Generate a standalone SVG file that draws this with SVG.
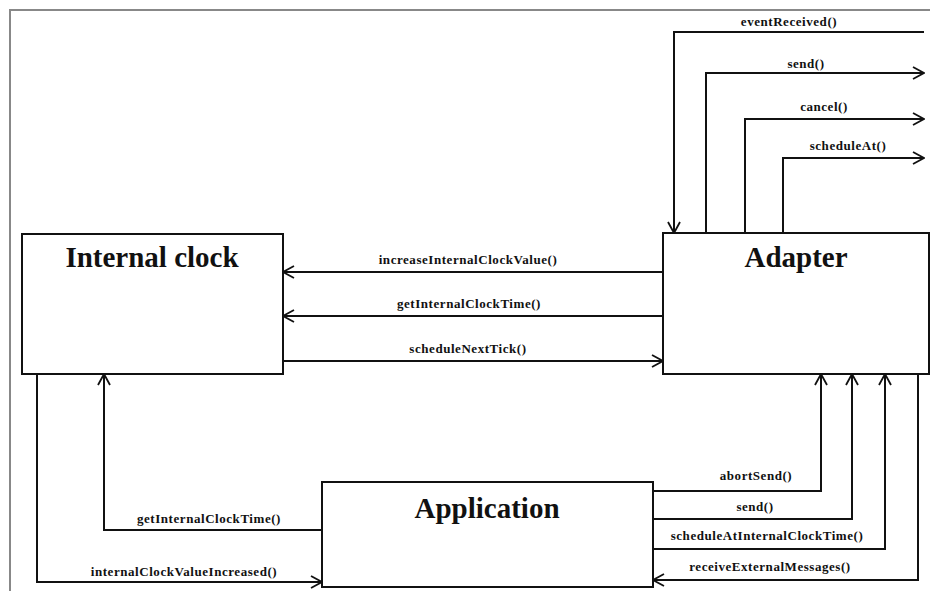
<svg xmlns="http://www.w3.org/2000/svg" width="930" height="591" viewBox="0 0 930 591">
<style>
.box{fill:#fff;stroke:#111;stroke-width:2}
.title{font-family:"Liberation Serif",serif;font-weight:bold;font-size:29px;text-anchor:middle;fill:#111}
.lbl{font-family:"Liberation Serif",serif;font-weight:bold;font-size:13px;letter-spacing:0.55px;text-anchor:middle;fill:#111}
.ln{fill:none;stroke:#111;stroke-width:2;marker-end:url(#ah)}
</style>
<defs>
<marker id="ah" viewBox="0 0 14 14" refX="13" refY="7" markerWidth="14" markerHeight="14" markerUnits="userSpaceOnUse" orient="auto">
<path d="M2,1 L13,7 L2,13" fill="none" stroke="#111" stroke-width="1.8"/>
</marker>
</defs>
<rect width="930" height="591" fill="#fff"/>
<path d="M10,591 V10 H930" fill="none" stroke="#888" stroke-width="2"/>
<g id="connectors">
<path class="ln" d="M924,32 H674 V233"/>
<path class="ln" d="M706,233 V73 H924"/>
<path class="ln" d="M745,233 V119 H924"/>
<path class="ln" d="M783,233 V158 H924"/>
<path class="ln" d="M663,272 H283"/>
<path class="ln" d="M663,316 H283"/>
<path class="ln" d="M283,361 H663"/>
<path class="ln" d="M653,491 H821 V374"/>
<path class="ln" d="M653,519 H852 V374"/>
<path class="ln" d="M653,549 H885 V374"/>
<path class="ln" d="M918,374 V580 H653"/>
<path class="ln" d="M322,530 H104 V374"/>
<path class="ln" d="M37,374 V582 H322"/>
<text class="lbl" x="789" y="26">eventReceived()</text>
<text class="lbl" x="806" y="68">send()</text>
<text class="lbl" x="824" y="111">cancel()</text>
<text class="lbl" x="848" y="150">scheduleAt()</text>
<text class="lbl" x="468" y="264">increaseInternalClockValue()</text>
<text class="lbl" x="469" y="308">getInternalClockTime()</text>
<text class="lbl" x="468" y="353">scheduleNextTick()</text>
<text class="lbl" x="756" y="480">abortSend()</text>
<text class="lbl" x="755" y="511">send()</text>
<text class="lbl" x="767" y="540">scheduleAtInternalClockTime()</text>
<text class="lbl" x="770" y="571">receiveExternalMessages()</text>
<text class="lbl" x="209" y="523">getInternalClockTime()</text>
<text class="lbl" x="184" y="576">internalClockValueIncreased()</text>
</g>
<g id="internal-clock">
<rect class="box" x="22" y="234" width="261" height="140"/>
<text class="title" x="152" y="267">Internal clock</text>
</g>
<g id="adapter">
<rect class="box" x="663" y="233" width="266" height="141"/>
<text class="title" x="796" y="267">Adapter</text>
</g>
<g id="application">
<rect class="box" x="322" y="482" width="331" height="105"/>
<text class="title" x="487" y="518">Application</text>
</g>
</svg>
